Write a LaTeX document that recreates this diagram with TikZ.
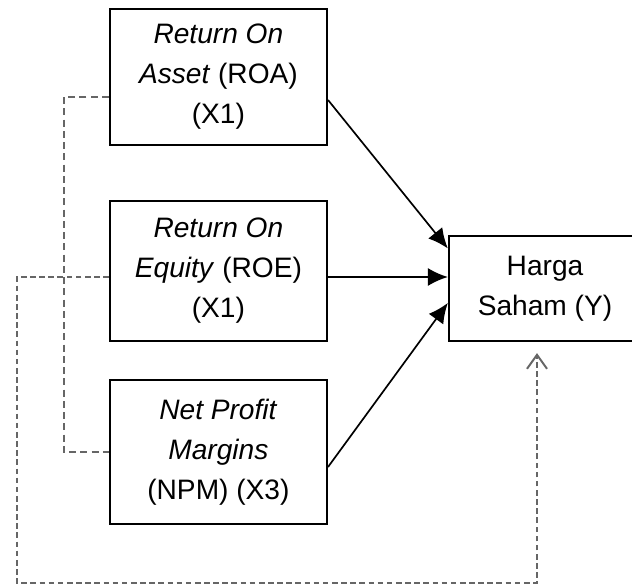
\documentclass[tikz,border=0pt]{standalone}
\usepackage{fontspec}
\setmainfont{Liberation Sans}
\usetikzlibrary{arrows.meta}

\tikzstyle{element}=[rectangle, draw, line width=1.6, align=center,
                     inner sep=0.1cm, font=\fontsize{20}{28.5}\selectfont]
\tikzstyle{link}=[-{Latex[length=0.5cm, width=0.45cm]}, line width=1.2]
\tikzstyle{backlink}=[dashed, dash pattern=on 5pt off 3pt, black!60, line width=1.4]

\begin{document}
\begin{tikzpicture}
\useasboundingbox (0, 0) rectangle (15.8, -14.675);

%%%%%%%%%%%%%%%%%%
%%%%%%%%%%%%%%%%%%
\node (ROA) at (5.46, -1.925) [element, minimum width=5.425cm, minimum height=3.4cm] {\textit{Return On}\\ \textit{Asset} (ROA)\\ (X1)};

\node (ROE) at (5.46, -6.775) [element, minimum width=5.425cm, minimum height=3.5cm] {\textit{Return On}\\ \textit{Equity} (ROE)\\ (X1)};

\node (NPM) at (5.46, -11.3) [element, minimum width=5.425cm, minimum height=3.6cm] {\textit{Net Profit}\\ \textit{Margins}\\ (NPM) (X3)};

%%%%%%%%%%%%%%%%%%
\node (Harga_Saham) at (13.625, -7.2125) [element, minimum width=4.8cm, minimum height=2.625cm] {Harga\\ Saham (Y)};

%%%%%%%%%%%%%%%%%%
\coordinate (left_bend) at (1.6, 0);
\coordinate (outer_bend) at (0.425, -14.575);
\coordinate (bottom_bend) at (13.425, -14.575);

%%%%%%%%%%%%%%%%%%%%
%%%%%%%%%%%%%%%%%%%%
\draw [link] ([yshift=-0.575cm]ROA.east) to ([yshift=1.0cm]Harga_Saham.west);

\draw [link] ([yshift=-0.15cm]ROE.east) to ([yshift=-0.15cm]ROE.east -| Harga_Saham.west);

\draw [link] ([yshift=-0.375cm]NPM.east) to ([yshift=-0.36cm]Harga_Saham.west);

%%%%%%%%%%%%%%%%%%%%
\draw [backlink] ([yshift=-0.5cm]ROA.west) -| (left_bend |- NPM.west) -- (NPM.west);

\draw [backlink, dash pattern=on 4pt off 2.5pt, -{Straight Barb[length=0.35cm, width=0.5cm]}, shorten >=0.275cm]
  ([yshift=-0.15cm]ROE.west) -| (outer_bend) -- (bottom_bend) -- (bottom_bend |- Harga_Saham.south);

\end{tikzpicture}
\end{document}
